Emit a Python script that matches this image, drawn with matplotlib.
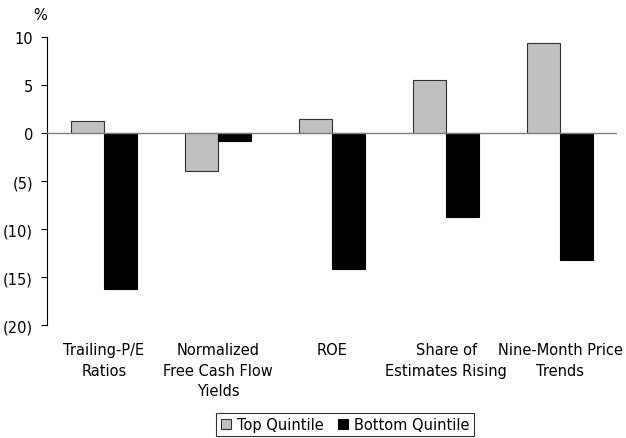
import matplotlib
matplotlib.use("Agg")
import matplotlib.pyplot as plt
import numpy as np

plt.rcParams['font.family'] = ['DejaVu Sans']

categories = ["Trailing-P/E\nRatios", "Normalized\nFree Cash Flow\nYields", "ROE",
              "Share of\nEstimates Rising", "Nine-Month Price\nTrends"]
top_quintile = [1.3, -3.9, 1.5, 5.5, 9.4]
bottom_quintile = [-16.2, -0.8, -14.1, -8.7, -13.2]
yticks = [10, 5, 0, -5, -10, -15, -20]

fig = plt.figure(figsize=(6.26, 4.39), dpi=100)
ax = fig.add_axes([0.075, 0.257, 0.911, 0.656])

x = np.arange(len(categories))
w = 0.29
ax.bar(x - w / 2, top_quintile, w, color='#C0C0C0', edgecolor='#333333', linewidth=0.8,
       label='Top Quintile', zorder=2)
ax.bar(x + w / 2, bottom_quintile, w, color='black', edgecolor='black', linewidth=0.8,
       label='Bottom Quintile', zorder=2)

ax.axhline(0, color='#808080', linewidth=1.0, zorder=3)

ax.set_xlim(-0.5, len(categories) - 0.5)
ax.set_ylim(-20, 10)
ax.set_yticks(yticks)
ax.set_yticklabels([f"({abs(v)})" if v < 0 else str(v) for v in yticks], fontsize=10.5)
ax.tick_params(axis='y', direction='out', length=4, width=0.8, pad=6)
ax.set_xticks([])
for s in ['top', 'right', 'bottom']:
    ax.spines[s].set_visible(False)
ax.spines['left'].set_linewidth(0.8)

for xi, lab in zip(x, categories):
    ax.text(xi, -21.8, lab, ha='center', va='top', fontsize=10.5, linespacing=1.45)

fig.text(40 / 626, 1 - 16 / 439, "%", ha='center', va='center', fontsize=10.5)

leg = ax.legend(loc='center', bbox_to_anchor=(0.523, -0.345), ncol=2, fontsize=10.5,
                frameon=True, fancybox=False, edgecolor='black', handlelength=0.7,
                handleheight=0.7, handletextpad=0.4, columnspacing=1.0,
                borderpad=0.3)
leg.get_frame().set_linewidth(0.8)

fig.savefig("out.png", dpi=100)
